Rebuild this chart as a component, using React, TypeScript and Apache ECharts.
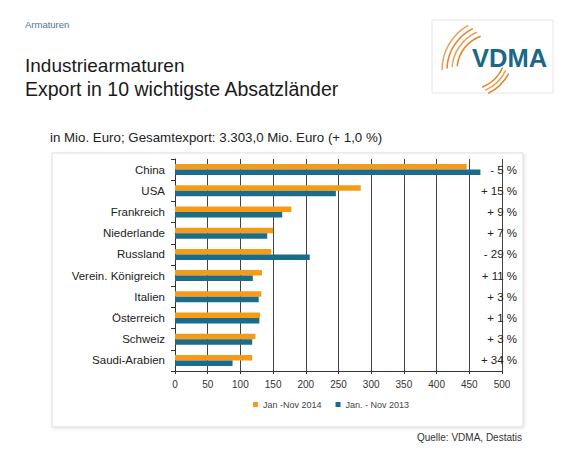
import React, { useEffect, useRef } from 'react';
import * as echarts from 'echarts';

const countries = ['China', 'USA', 'Frankreich', 'Niederlande', 'Russland', 'Verein. Königreich', 'Italien', 'Österreich', 'Schweiz', 'Saudi-Arabien'];
const export2014 = [446, 284, 178, 150, 147, 133, 132, 130, 123, 118];
const export2013 = [467, 246, 164, 141, 206, 119, 128, 129, 118, 88];
const changes = ['- 5 %', '+ 15 %', '+ 9 %', '+ 7 %', '- 29 %', '+ 11 %', '+ 3 %', '+ 1 %', '+ 3 %', '+ 34 %'];
const seriesNames = ['Jan -Nov 2014', 'Jan. - Nov 2013'];
const axisMin = 0;
const axisMax = 500;
const axisStep = 50;

const FONT = '"Liberation Sans", Arial, sans-serif';
const ORANGE = '#F59B16';
const TEAL = '#1B6B8B';

export default function App() {
  const ref = useRef<HTMLDivElement>(null);
  useEffect(() => {
    document.body.style.margin = '0';
    const chart = echarts.init(ref.current!, undefined, { renderer: 'svg' });
    const upperArcs = [36, 41, 46, 51].map((r, i) => ({
      type: 'arc',
      shape: { cx: 493, cy: 70, r, startAngle: (186 - i * 2) * Math.PI / 180, endAngle: (250 - i * 3) * Math.PI / 180, clockwise: true },
      style: { stroke: i % 2 ? '#E9A050' : '#E2812A', lineWidth: 1.5, fill: null },
    }));
    const lowerArcs = [38, 42, 46].map((r, i) => ({
      type: 'arc',
      shape: { cx: 468, cy: 52, r, startAngle: (24 + i * 2) * Math.PI / 180, endAngle: (68 - i * 2) * Math.PI / 180, clockwise: true },
      style: { stroke: i % 2 ? '#E9A050' : '#E2812A', lineWidth: 1.5, fill: null },
    }));
    chart.setOption({
      animation: false,
      backgroundColor: '#ffffff',
      textStyle: { fontFamily: FONT },
      grid: { left: 175, right: 78, top: 159, bottom: 93, containLabel: false },
      legend: {
        data: seriesNames,
        left: 253,
        top: 400,
        padding: 0,
        itemWidth: 5,
        itemHeight: 5,
        itemGap: 14,
        icon: 'rect',
        textStyle: { fontSize: 9, color: '#444', fontFamily: FONT },
      },
      xAxis: {
        type: 'value',
        min: axisMin,
        max: axisMax,
        interval: axisStep,
        axisLine: { show: true, lineStyle: { color: '#333', width: 1 } },
        axisTick: { show: true, length: 3, lineStyle: { color: '#333' } },
        splitLine: { show: true, lineStyle: { color: '#444', width: 1 } },
        axisLabel: { fontSize: 10, color: '#333', margin: 8, fontFamily: FONT },
      },
      yAxis: [
        {
          type: 'category',
          data: countries,
          inverse: true,
          axisLine: { show: true, lineStyle: { color: '#333', width: 1 } },
          axisTick: { show: true, length: 4, lineStyle: { color: '#333' } },
          axisLabel: { fontSize: 11.5, color: '#222', margin: 10, fontFamily: FONT },
        },
        {
          type: 'category',
          data: countries,
          inverse: true,
          position: 'right',
          axisLine: { show: false },
          axisTick: { show: false },
          axisLabel: {
            fontSize: 11.5,
            color: '#222',
            align: 'right',
            margin: 15,
            padding: [5, 0, 0, 0],
            fontFamily: FONT,
            formatter: (_v: string, idx: number) => changes[idx],
          },
        },
      ],
      series: [
        {
          name: seriesNames[0],
          type: 'bar',
          data: export2014,
          itemStyle: { color: ORANGE },
          barWidth: 5.5,
          barGap: '0%',
        },
        {
          name: seriesNames[1],
          type: 'bar',
          data: export2013,
          itemStyle: { color: TEAL },
          barWidth: 5.5,
          barGap: '0%',
        },
      ],
      graphic: [
        {
          type: 'rect',
          z: -10,
          shape: { x: 52, y: 153, width: 471, height: 274 },
          style: { fill: '#ffffff', stroke: '#dddddd', lineWidth: 1, shadowBlur: 3, shadowColor: 'rgba(0,0,0,0.12)', shadowOffsetX: 1, shadowOffsetY: 1 },
        },
        {
          type: 'text', left: 25, top: 19,
          style: { text: 'Armaturen', fontSize: 9.5, fill: '#4F7496', fontFamily: FONT },
        },
        {
          type: 'text', left: 25, top: 56,
          style: { text: 'Industriearmaturen', fontSize: 19, fill: '#1a1a1a', fontFamily: FONT },
        },
        {
          type: 'text', left: 25, top: 79,
          style: { text: 'Export in 10 wichtigste Absatzländer', fontSize: 19.5, fill: '#1a1a1a', fontFamily: FONT },
        },
        {
          type: 'text', left: 50, top: 131,
          style: { text: 'in Mio. Euro; Gesamtexport: 3.303,0 Mio. Euro (+ 1,0 %)', fontSize: 13.3, fill: '#222', fontFamily: FONT },
        },
        {
          type: 'text', right: 58, top: 432,
          style: { text: 'Quelle: VDMA, Destatis', fontSize: 10, fill: '#333', fontFamily: FONT },
        },
        {
          type: 'group',
          children: [
            {
              type: 'rect',
              shape: { x: 432, y: 20, width: 121, height: 73 },
              style: { fill: '#ffffff', stroke: '#e6e6e6', lineWidth: 1 },
            },
            ...upperArcs,
            ...lowerArcs,
            {
              type: 'text', x: 472, y: 45,
              style: { text: 'VDMA', fontSize: 25.5, fontWeight: 'bold', fill: '#1A6787', fontFamily: FONT },
            },
          ],
        },
      ],
    });
    return () => chart.dispose();
  }, []);
  return <div ref={ref} style={{ width: 580, height: 464, position: 'absolute', left: 0, top: 0 }} />;
}
